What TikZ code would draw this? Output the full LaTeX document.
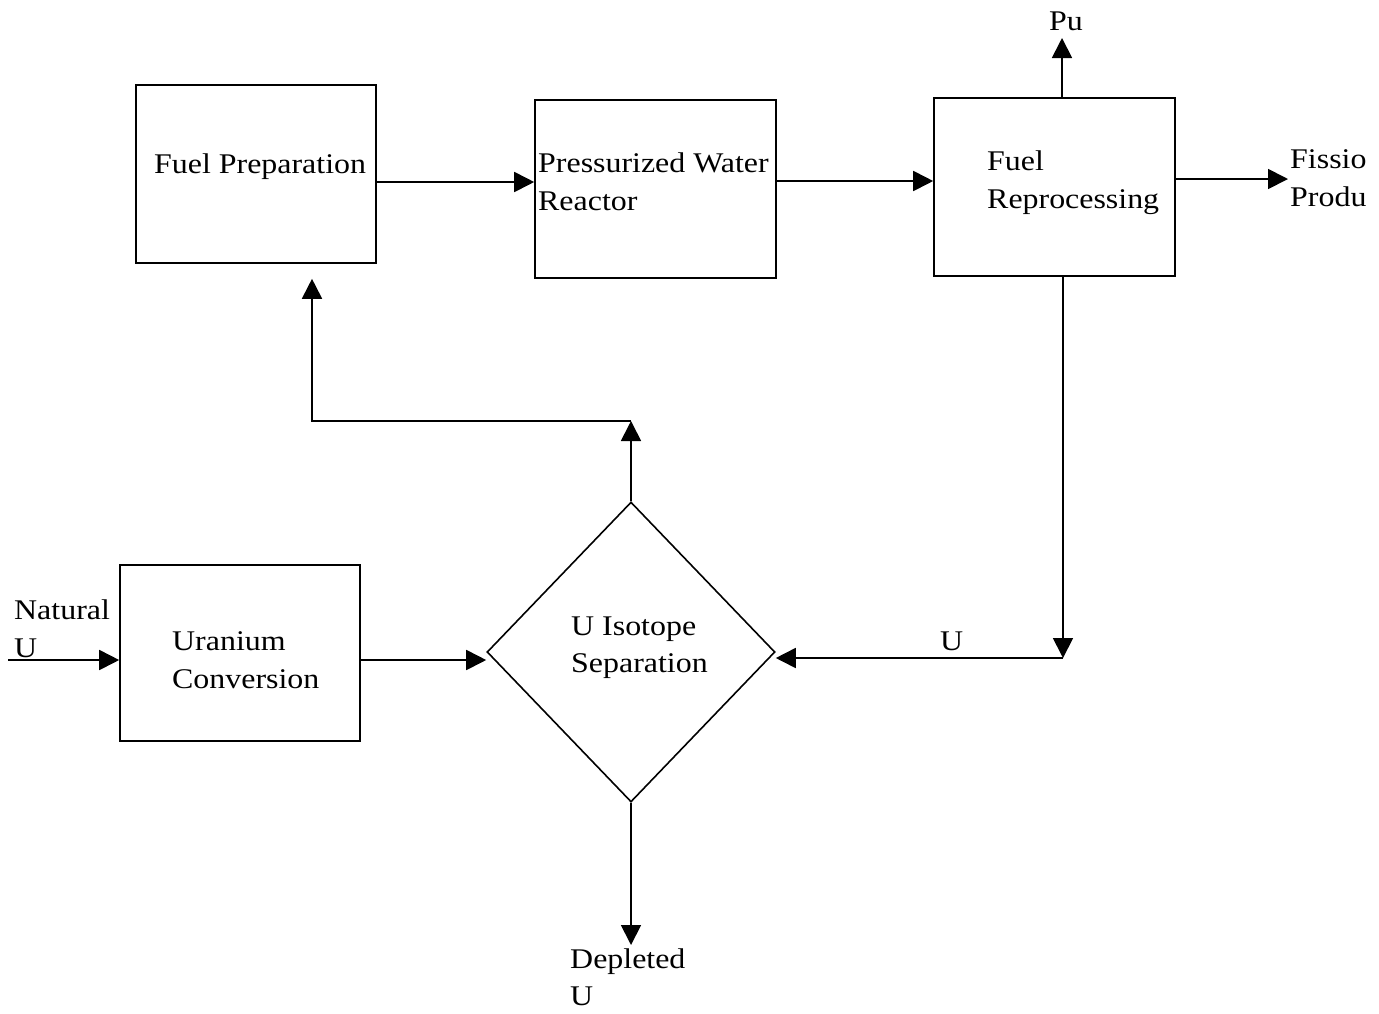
\documentclass[tikz,border=0pt]{standalone}
\usepackage{fontspec}
\setmainfont{Liberation Serif}[FakeStretch=1.12]
\usetikzlibrary{arrows.meta,shapes.geometric}
\begin{document}
\begin{tikzpicture}[x=1pt,y=-1pt,
  every node/.style={inner sep=0pt},
  box/.style={draw,line width=1.6pt,minimum width=240pt,minimum height=178pt},
  lbl/.style={anchor=base west,font=\fontsize{28.5}{38}\selectfont},
  conn/.style={line width=1.8pt},
  arr/.style={conn,-{Triangle[length=20pt,width=20pt]}}]
\useasboundingbox (0,0) rectangle (1379,1013);
% boxes
\node[box] (fp) at (256,174) {};
\node[box,minimum width=241pt] (pwr) at (655.5,189) {};
\node[box,minimum width=241pt] (rep) at (1054.5,187) {};
\node[box,minimum height=176pt] (conv) at (240,653) {};
\node[draw,line width=1.6pt,diamond,minimum width=288pt,minimum height=300pt] (dia) at (631,652) {};
% texts
\node[lbl] (t1) at (154,173) {Fuel Preparation};
\node[lbl] (t2a) at (538,172) {Pressurized Water};
\node[lbl] (t2b) at (538,210) {Reactor};
\node[lbl] (t3a) at (987,170) {Fuel};
\node[lbl] (t3b) at (987,208) {Reprocessing};
\node[lbl] (t4a) at (1290,168) {Fissio};
\node[lbl] (t4b) at (1290,206) {Produ};
\node[lbl,anchor=base] (t5) at (1066,30) {Pu};
\node[lbl] (t6a) at (14,619) {Natural};
\node[lbl] (t6b) at (14,657) {U};
\node[lbl] (t7a) at (172,650) {Uranium};
\node[lbl] (t7b) at (172,688) {Conversion};
\node[lbl] (t8a) at (571,635) {U Isotope};
\node[lbl] (t8b) at (571,672) {Separation};
\node[lbl] (t9) at (940,650) {U};
\node[lbl] (t10a) at (570,968) {Depleted};
\node[lbl] (t10b) at (570,1005) {U};
% free ends
\coordinate (fpend) at (1288,179);
\coordinate (puend) at (1062,38);
\coordinate (nat) at (8,660);
\coordinate (uc) at (1063,658);
\coordinate (tj) at (631,421);
\coordinate (depend) at (631,945);
% connectors
\draw[arr] ([yshift=-8pt]fp.east) -- ([yshift=-8pt]fp.east -| pwr.west);
\draw[arr] ([yshift=8pt]pwr.east) -- ([yshift=8pt]pwr.east -| rep.west);
\draw[arr] (rep.east |- fpend) -- (fpend);
\draw[arr] (rep.north -| puend) -- (puend);
\draw[arr] (rep.south -| uc) -- (uc);
\draw[arr] (uc) -- (uc -| dia.east);
\draw[arr] (nat) -- (nat -| conv.west);
\draw[arr] ([yshift=-7pt]conv.east) -- ([yshift=-7pt]conv.east -| dia.west);
\draw[arr] (dia.north) -- (tj);
\draw[arr,shorten >=15pt] (tj) -| ([xshift=56pt]fp.south);
\draw[arr] (dia.south) -- (depend);
\end{tikzpicture}
\end{document}
